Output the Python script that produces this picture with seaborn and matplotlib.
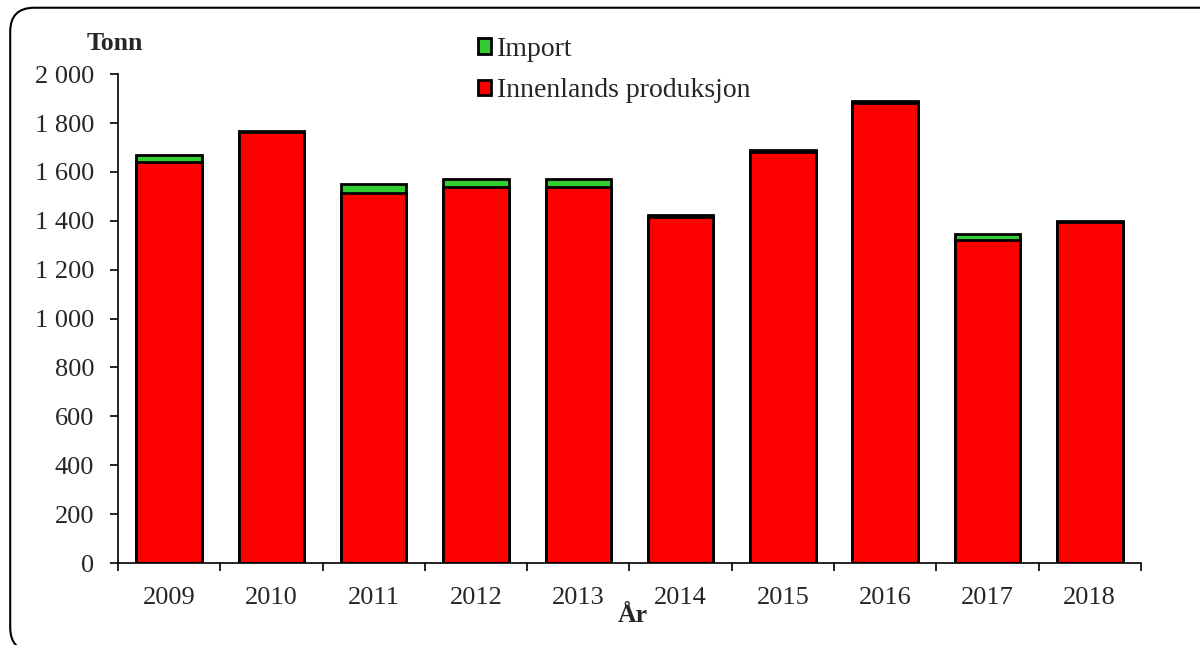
import numpy as np
import pandas as pd
import matplotlib
matplotlib.use('Agg')
import matplotlib.pyplot as plt
import matplotlib.patches as mpatches
from matplotlib.patches import FancyBboxPatch
from matplotlib.ticker import FuncFormatter
import seaborn as sns

# ── Data ────────────────────────────────────────────────────────────────────────
YEARS    = ['2009', '2010', '2011', '2012', '2013', '2014', '2015', '2016', '2017', '2018']
DOMESTIC = [1640, 1762, 1512, 1539, 1539, 1416, 1683, 1880, 1322, 1394]
IMPORT   = [28, 4, 40, 33, 33, 8, 5, 9, 24, 5]

RED   = '#FF0000'
GREEN = '#33CC33'

# ── Style ───────────────────────────────────────────────────────────────────────
sns.set_theme(style='white')
plt.rcParams['font.family'] = ['Liberation Serif', 'DejaVu Serif']
plt.rcParams['font.size'] = 19

df = pd.DataFrame({'year': YEARS, 'domestic': DOMESTIC, 'imp': IMPORT})
df['total'] = df['domestic'] + df['imp']

fig = plt.figure(figsize=(12, 6.45), dpi=100)
ax = fig.add_axes([0.0983, 0.1271, 0.8525, 0.758])

sns.barplot(data=df, x='year', y='total', color=GREEN, saturation=1,
            width=0.64, edgecolor='black', linewidth=2, ax=ax)
sns.barplot(data=df, x='year', y='domestic', color=RED, saturation=1,
            width=0.64, edgecolor='black', linewidth=2, ax=ax)

ax.set_xlim(-0.5, len(YEARS) - 0.5)
ax.set_ylim(0, 2000)
ax.set_yticks(range(0, 2001, 200))
ax.yaxis.set_major_formatter(FuncFormatter(lambda v, p: f'{int(v):,}'.replace(',', ' ')))
ax.set_xlabel('')
ax.set_ylabel('')

# category boundary ticks on x axis
ax.set_xticks(np.arange(len(YEARS)))
ax.set_xticklabels(YEARS)
ax.set_xticks(np.arange(len(YEARS) + 1) - 0.5, minor=True)
ax.tick_params(axis='x', which='major', length=0, pad=17, labelsize=19)
ax.tick_params(axis='x', which='minor', length=6, width=1.2, direction='out', color='black')
ax.tick_params(axis='y', which='major', length=6, width=1.2, direction='out',
               color='black', pad=11, labelsize=19)
ax.xaxis.set_tick_params(which='minor', bottom=True)
ax.yaxis.set_tick_params(left=True)

for s in ['top', 'right']:
    ax.spines[s].set_visible(False)
for s in ['left', 'bottom']:
    ax.spines[s].set_color('black')
    ax.spines[s].set_linewidth(1.2)

fig.text(0.096, 0.933, 'Tonn', ha='center', va='center', fontsize=18.5, fontweight='bold')
fig.text(0.527, 0.046, 'År', ha='center', va='center', fontsize=18.5, fontweight='bold')

handles = [mpatches.Patch(facecolor=GREEN, edgecolor='black', linewidth=2, label='Import'),
           mpatches.Patch(facecolor=RED, edgecolor='black', linewidth=2, label='Innenlands produksjon')]
fig.legend(handles=handles, loc='upper left', bbox_to_anchor=(0.398, 0.943),
           frameon=False, fontsize=20, handlelength=0.5, handleheight=0.5,
           handletextpad=0.2, labelspacing=0.6, borderaxespad=0, borderpad=0)

frame = FancyBboxPatch((0.0085, -0.01), 1.02, 0.998, boxstyle='round,pad=0,rounding_size=0.02',
                       transform=fig.transFigure, facecolor='none', edgecolor='black',
                       linewidth=1.5, mutation_aspect=1.86)
fig.patches.append(frame)

fig.savefig('out.png', dpi=100)
